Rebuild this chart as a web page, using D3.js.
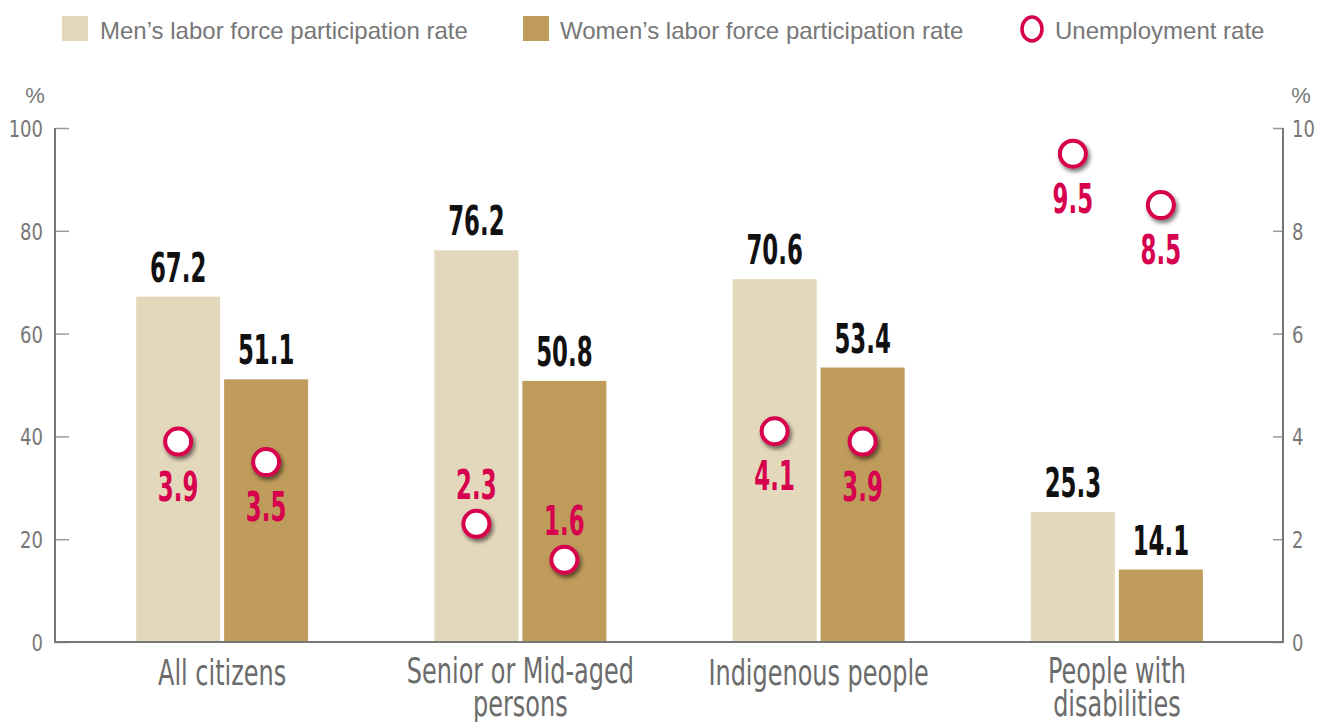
<!DOCTYPE html>
<html>
<head>
<meta charset="utf-8">
<script src="https://cdn.jsdelivr.net/npm/d3@7"></script>
<style>
  body { margin: 0; background: #fff; }
  svg { display: block; }
  .cond { font-family: "DejaVu Sans Condensed", "DejaVu Sans", sans-serif; font-stretch: condensed; }
</style>
</head>
<body>
<div id="chart"></div>
<script>
const categories = [['All citizens'], ['Senior or Mid-aged', 'persons'], ['Indigenous people'], ['People with', 'disabilities']];
const menRate = [67.2, 76.2, 70.6, 25.3];
const womenRate = [51.1, 50.8, 53.4, 14.1];
const menUnemp = [3.9, 2.3, 4.1, 9.5];
const womenUnemp = [3.5, 1.6, 3.9, 8.5];
const unempLabelAbove = [false, true, false, false];
const leftTicks = [0, 20, 40, 60, 80, 100];
const rightTicks = [0, 2, 4, 6, 8, 10];
const seriesNames = ['Men’s labor force participation rate', 'Women’s labor force participation rate', 'Unemployment rate'];

const width = 1317, height = 722;
const menColor = '#e4d8bc', womenColor = '#bf9c5b', redColor = '#d6004e', greyColor = '#777';
const sansFont = '"Liberation Sans", Arial, sans-serif';

const svg = d3.select('#chart').append('svg')
  .attr('width', width)
  .attr('height', height);

const defs = svg.append('defs');
const f = defs.append('filter').attr('id', 'shadow')
  .attr('x', '-50%').attr('y', '-50%').attr('width', '200%').attr('height', '200%');
f.append('feDropShadow').attr('dx', 2).attr('dy', 3).attr('stdDeviation', 2)
  .attr('flood-color', '#000').attr('flood-opacity', 0.55);

const plotL = 55, plotR = 1283, plotT = 128, plotB = 642;

const x0 = d3.scaleBand().domain(d3.range(categories.length)).range([73, 1266]);
const x1 = d3.scaleBand().domain(['men', 'women']).range([-86, 86]).paddingInner(0.045);
const yL = d3.scaleLinear().domain([0, 100]).range([plotB, plotT]);
const yR = d3.scaleLinear().domain([0, 10]).range([plotB, plotT]);

// squeezed text (condensed look)
function squeezed(parent, x, y, sx, txt, anchor) {
  return parent.append('g')
    .attr('transform', `translate(${x},${y}) scale(${sx},1)`)
    .append('text').attr('class', 'cond').attr('text-anchor', anchor || 'middle').text(txt);
}

// axes
const axL = svg.append('g').attr('transform', `translate(${plotL},0)`)
  .call(d3.axisRight(yL).tickValues(leftTicks).tickSize(14).tickFormat(d => ''));
axL.selectAll('path.domain').remove();
axL.selectAll('line').attr('stroke', '#999').attr('stroke-width', 1.5);
const axR = svg.append('g').attr('transform', `translate(${plotR},0)`)
  .call(d3.axisLeft(yR).tickValues(rightTicks).tickSize(10).tickFormat(d => ''));
axR.selectAll('path.domain').remove();
axR.selectAll('line').attr('stroke', '#999').attr('stroke-width', 1.5);

const tickG = svg.append('g');
leftTicks.forEach(d => {
  squeezed(tickG, 43, yL(d) + 9, 0.87, d, 'end')
    .attr('font-family', sansFont).attr('font-size', 23).attr('fill', greyColor);
});
rightTicks.forEach(d => {
  squeezed(tickG, 1292, yR(d) + 9, 0.87, d, 'start')
    .attr('font-family', sansFont).attr('font-size', 23).attr('fill', greyColor);
});
svg.append('text').attr('x', 35).attr('y', 103).attr('text-anchor', 'middle')
  .attr('font-family', sansFont).attr('font-size', 22).attr('fill', greyColor).text('%');
svg.append('text').attr('x', 1301).attr('y', 103).attr('text-anchor', 'middle')
  .attr('font-family', sansFont).attr('font-size', 22).attr('fill', greyColor).text('%');

// bars
const groups = svg.append('g').selectAll('g').data(categories).join('g')
  .attr('transform', (d, i) => `translate(${x0(i) + x0.bandwidth() / 2},0)`);

groups.append('rect')
  .attr('x', x1('men')).attr('width', x1.bandwidth())
  .attr('y', (d, i) => yL(menRate[i])).attr('height', (d, i) => plotB - yL(menRate[i]))
  .attr('fill', menColor);
groups.append('rect')
  .attr('x', x1('women')).attr('width', x1.bandwidth())
  .attr('y', (d, i) => yL(womenRate[i])).attr('height', (d, i) => plotB - yL(womenRate[i]))
  .attr('fill', womenColor);

// value labels
groups.each(function (d, i) {
  const g = d3.select(this);
  squeezed(g, x1('men') + x1.bandwidth() / 2, yL(menRate[i]) - 15, 0.62, menRate[i].toFixed(1))
    .attr('font-size', 41).attr('font-weight', 'bold').attr('fill', '#111');
  squeezed(g, x1('women') + x1.bandwidth() / 2, yL(womenRate[i]) - 15, 0.62, womenRate[i].toFixed(1))
    .attr('font-size', 41).attr('font-weight', 'bold').attr('fill', '#111');
});

// axis lines
svg.append('path')
  .attr('d', `M${plotL},${plotT} V${plotB} H${plotR} V${plotT}`)
  .attr('fill', 'none').attr('stroke', greyColor).attr('stroke-width', 2);

// unemployment markers
[['men', menUnemp], ['women', womenUnemp]].forEach(([key, vals]) => {
  const cx = x1(key) + x1.bandwidth() / 2;
  groups.append('circle')
    .attr('cx', cx).attr('cy', (d, i) => yR(vals[i])).attr('r', 13)
    .attr('fill', '#fff').attr('stroke', redColor).attr('stroke-width', 4)
    .attr('filter', 'url(#shadow)');
  groups.each(function (d, i) {
    const ly = unempLabelAbove[i] ? yR(vals[i]) - 25 : yR(vals[i]) + 59;
    squeezed(d3.select(this), cx, ly, 0.62, vals[i].toFixed(1))
      .attr('font-size', 41).attr('font-weight', 'bold').attr('fill', redColor);
  });
});

// category labels
groups.each(function (d) {
  const g = d3.select(this);
  d.forEach((line, k) => {
    squeezed(g, 0, (d.length > 1 ? 683 : 685) + k * 33, 0.74, line)
      .attr('font-size', 36).attr('fill', '#6b6b6b');
  });
});

// legend
const lg = svg.append('g').attr('font-family', sansFont).attr('font-size', 24).attr('fill', greyColor);
lg.append('rect').attr('x', 62).attr('y', 16).attr('width', 26).attr('height', 25).attr('fill', menColor);
lg.append('text').attr('x', 100).attr('y', 39).text(seriesNames[0]);
lg.append('rect').attr('x', 523).attr('y', 16).attr('width', 26).attr('height', 25).attr('fill', womenColor);
lg.append('text').attr('x', 560).attr('y', 39).text(seriesNames[1]);
lg.append('ellipse').attr('cx', 1032).attr('cy', 29).attr('rx', 10).attr('ry', 12)
  .attr('fill', 'none').attr('stroke', redColor).attr('stroke-width', 3.5);
lg.append('text').attr('x', 1055).attr('y', 39).text(seriesNames[2]);
</script>
</body>
</html>
